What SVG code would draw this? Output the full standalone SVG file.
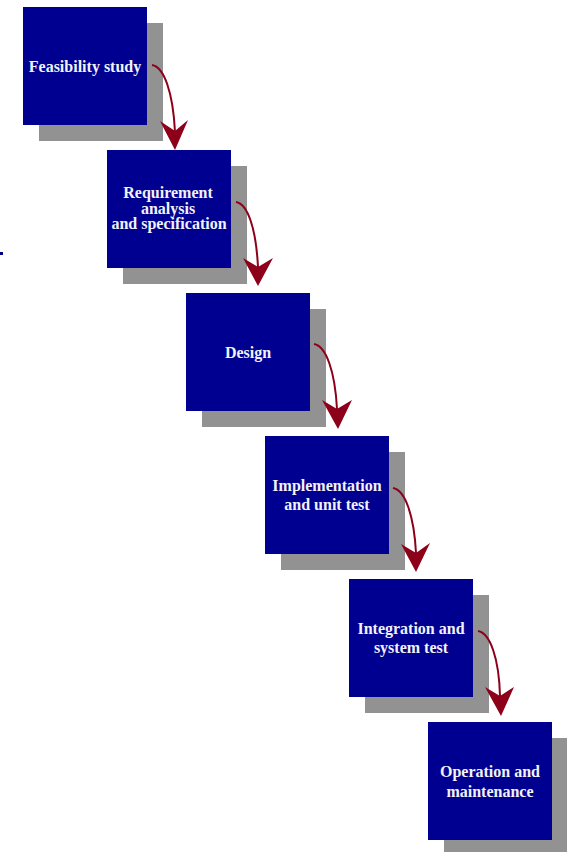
<svg xmlns="http://www.w3.org/2000/svg" width="567" height="852" viewBox="0 0 567 852">
<style>
.shadow{fill:#929292}
.box{fill:#000090}
.lbl{font-family:"Liberation Serif","Times New Roman",serif;font-weight:bold;font-size:16px;fill:#f2f2f8;text-anchor:middle}
.shaft{fill:none;stroke:#8c0019;stroke-width:2}
.head{fill:#8c0019}
</style>
<rect width="567" height="852" fill="#ffffff"/>
<rect x="0" y="252" width="3" height="3" fill="#00008a"/>
<g id="node-feasibility">
<rect class="shadow" x="39" y="23" width="124" height="118"/>
<rect class="box" x="23" y="7" width="124" height="118"/>
<text class="lbl" x="85" y="72">Feasibility study</text>
</g>
<g id="node-requirement">
<rect class="shadow" x="123" y="166" width="124" height="118"/>
<rect class="box" x="107" y="150" width="124" height="118"/>
<text class="lbl" x="168" y="198">Requirement</text>
<text class="lbl" x="168" y="214">analysis</text>
<text class="lbl" x="169" y="229">and specification</text>
</g>
<g id="node-design">
<rect class="shadow" x="202" y="309" width="124" height="118"/>
<rect class="box" x="186" y="293" width="124" height="118"/>
<text class="lbl" x="248" y="358">Design</text>
</g>
<g id="node-implementation">
<rect class="shadow" x="281" y="452" width="124" height="118"/>
<rect class="box" x="265" y="436" width="124" height="118"/>
<text class="lbl" x="327" y="491">Implementation</text>
<text class="lbl" x="327" y="510">and unit test</text>
</g>
<g id="node-integration">
<rect class="shadow" x="365" y="595" width="124" height="118"/>
<rect class="box" x="349" y="579" width="124" height="118"/>
<text class="lbl" x="411" y="634">Integration and</text>
<text class="lbl" x="411" y="653">system test</text>
</g>
<g id="node-operation">
<rect class="shadow" x="444" y="738" width="124" height="118"/>
<rect class="box" x="428" y="722" width="124" height="118"/>
<text class="lbl" x="490" y="777">Operation and</text>
<text class="lbl" x="490" y="797">maintenance</text>
</g>
<g id="connectors">
<path class="shaft" d="M152,65 C164,67 173,92 175,132"/>
<path class="head" d="M160,121 L175,131 L188,120 L175,150 Z"/>
<path class="shaft" d="M236,202 C248,204 256,229 258,267"/>
<path class="head" d="M243,258 L258,267 L273,258 L258,286 Z"/>
<path class="shaft" d="M314,344 C326,346 335,371 337,409"/>
<path class="head" d="M322,400 L337,409 L352,400 L338,429 Z"/>
<path class="shaft" d="M393,488 C405,490 414,515 416,553"/>
<path class="head" d="M401,544 L416,553 L430,543 L416,572 Z"/>
<path class="shaft" d="M478,631 C490,633 499,658 500,696"/>
<path class="head" d="M485,687 L500,696 L514,687 L501,716 Z"/>
</g>
</svg>
